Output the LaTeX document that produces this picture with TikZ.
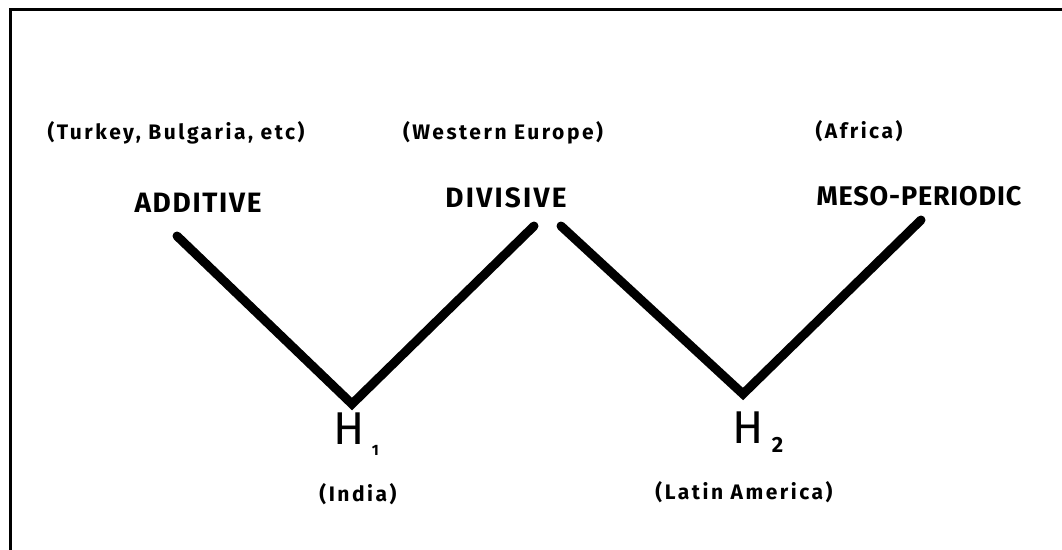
\documentclass[tikz,border=0pt]{standalone}
\usepackage{fontspec}
\setmainfont{Fira Sans}
\begin{document}
\begin{tikzpicture}[x=1pt,y=-1pt,
  lbl/.style={font=\fontsize{28}{30}\selectfont\bfseries\addfontfeatures{LetterSpace=6}, inner sep=0pt},
  reg/.style={font=\fontsize{21}{23}\selectfont\bfseries\addfontfeatures{LetterSpace=12}, inner sep=0pt},
  hnode/.style={font=\fontsize{46}{48}\selectfont, inner sep=0pt},
  vline/.style={line width=9pt, line cap=round, line join=miter}]
\useasboundingbox (0,0) rectangle (1062,549);
\draw[line width=3pt] (10,560) -- (10,9) -- (1070,9);
% labels
\node[reg] (tb) at (176,133) {(Turkey, Bulgaria, etc)};
\node[lbl] (add) at (198,203) {ADDITIVE};
\node[reg] (we) at (503,133) {(Western Europe)};
\node[lbl, font=\fontsize{28}{30}\selectfont\bfseries\addfontfeatures{LetterSpace=8}] (div) at (506,198) {DIVISIVE};
\node[reg] (af) at (859,131) {(Africa)};
\node[lbl, font=\fontsize{27}{29}\selectfont\bfseries\addfontfeatures{LetterSpace=3}] (meso) at (919,196) {MESO-PERIODIC};
\node[hnode] (h1) at (356,434) {H\,\raisebox{-0.25em}{\fontsize{15}{17}\selectfont\bfseries 1}};
\node[reg] (in) at (358,494) {(India)};
\node[hnode] (h2) at (758,432) {H\,\raisebox{-0.2em}{\fontsize{22}{24}\selectfont\bfseries 2}};
\node[reg] (la) at (744,492) {(Latin America)};
% vertices
\coordinate (a1) at (177,236);
\coordinate (v1) at (352,404);
\coordinate (a2) at (534,226);
\coordinate (b1) at (561,226);
\coordinate (v2) at (743,394);
\coordinate (b2) at (921,220);
\draw[vline] (a1) -- (v1) -- (a2);
\draw[vline] (b1) -- (v2) -- (b2);
\end{tikzpicture}
\end{document}
